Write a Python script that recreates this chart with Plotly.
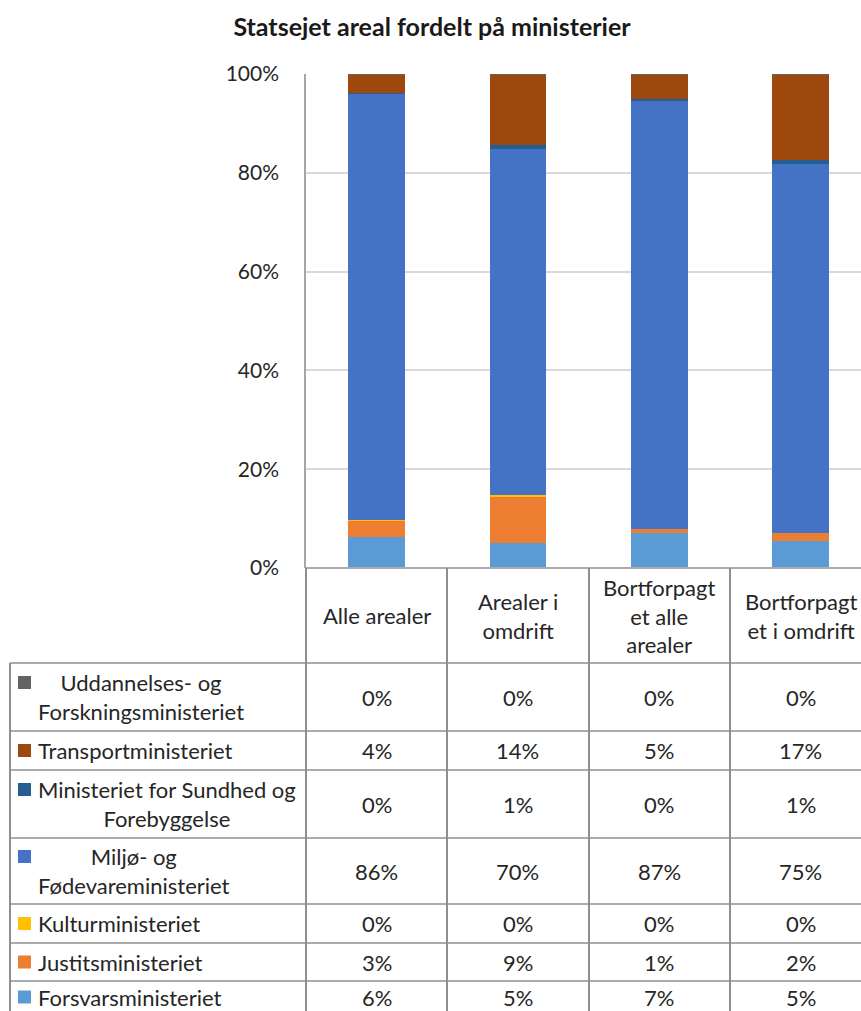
import plotly.graph_objects as go

# ---------------- data ----------------
categories = ["Alle arealer", "Arealer i omdrift",
              "Bortforpagtet alle arealer", "Bortforpagtet i omdrift"]
category_labels = ["Alle arealer", "Arealer i<br>omdrift",
                   "Bortforpagt<br>et alle<br>arealer", "Bortforpagt<br>et i omdrift"]

# stacking order: bottom -> top
series_names = ["Forsvarsministeriet", "Justitsministeriet", "Kulturministeriet",
                "Miljø- og Fødevareministeriet",
                "Ministeriet for Sundhed og Forebyggelse",
                "Transportministeriet", "Uddannelses- og Forskningsministeriet"]
series_table_labels = ["Forsvarsministeriet", "Justitsministeriet", "Kulturministeriet",
                       "Miljø- og<br>Fødevareministeriet",
                       "Ministeriet for Sundhed og<br>Forebyggelse",
                       "Transportministeriet", "Uddannelses- og<br>Forskningsministeriet"]

forsvar = [6.2, 5.1, 7.1, 5.4]
justits = [3.4, 9.3, 0.8, 1.7]
kultur = [0.2, 0.4, 0.05, 0.05]
miljo = [86.2, 70.0, 86.65, 74.65]
sundhed = [0.1, 0.8, 0.3, 0.8]
transport = [3.7, 14.2, 4.9, 17.2]
uddannelse = [0.2, 0.2, 0.2, 0.2]
series_values = [forsvar, justits, kultur, miljo, sundhed, transport, uddannelse]

y_ticks = [0, 20, 40, 60, 80, 100]
y_tick_labels = ["0%", "20%", "40%", "60%", "80%", "100%"]

# ---------------- styles ----------------
colors = ["#5B9BD5", "#ED7D31", "#FFC000", "#4472C4", "#255E91", "#9E480E", "#636363"]
FONT = "Lato"
TXT = "#262626"
FS = 22

W, H = 861, 1011
PW, PH = 555, 494
L, T = 306, 74


def xp(px):  # page pixel -> paper x
    return (px - L) / PW


def yp(py):  # page pixel -> paper y
    return (T + PH - py) / PH


fig = go.Figure()
for name, vals, col in zip(series_names, series_values, colors):
    fig.add_trace(go.Bar(x=categories, y=vals, name=name,
                         marker=dict(color=col, line=dict(width=0))))

shapes = []
ann = []

# table geometry (pixels)
header_top = 568
row_bounds = [663, 731, 770, 838, 904, 943, 981, 1013]
col_lines = [447, 589, 730]
bottom = 1030
hcol = "#ABABAB"
vcol = "#8E8E8E"

shapes.append(dict(type="line", xref="paper", yref="paper", x0=xp(306), x1=1.02,
                   y0=yp(header_top), y1=yp(header_top), line=dict(color=hcol, width=2)))
for b in row_bounds[:-1]:
    shapes.append(dict(type="line", xref="paper", yref="paper", x0=xp(10), x1=1.02,
                       y0=yp(b), y1=yp(b), line=dict(color=hcol, width=2)))
shapes.append(dict(type="line", xref="paper", yref="paper", x0=xp(10), x1=xp(10),
                   y0=yp(row_bounds[0]), y1=yp(bottom), line=dict(color=vcol, width=2)))
for c in [306] + col_lines:
    shapes.append(dict(type="line", xref="paper", yref="paper", x0=xp(c), x1=xp(c),
                       y0=yp(header_top), y1=yp(bottom), line=dict(color=vcol, width=2)))

# header texts
for i, lab in enumerate(category_labels):
    ann.append(dict(x=i, xref="x", y=yp((header_top + row_bounds[0]) / 2), yref="paper",
                    text=lab, showarrow=False, xanchor="center", yanchor="middle",
                    align="center", font=dict(family=FONT, size=FS, color=TXT)))

# table rows (top -> bottom = reverse of stacking)
order = list(range(len(series_names)))[::-1]
for r, si in enumerate(order):
    y0, y1 = row_bounds[r], row_bounds[r + 1]
    yc = (y0 + y1) / 2
    lab = series_table_labels[si]
    nlines = lab.count("<br>") + 1
    sq_c = yc if nlines == 1 else yc - 14.5
    shapes.append(dict(type="rect", xref="paper", yref="paper",
                       x0=xp(18), x1=xp(31), y0=yp(sq_c - 6.5), y1=yp(sq_c + 6.5),
                       fillcolor=colors[si], line=dict(width=0)))
    ann.append(dict(x=xp(36), xref="paper", y=yp(yc), yref="paper", text=lab,
                    showarrow=False, xanchor="left", yanchor="middle", align="center",
                    font=dict(family=FONT, size=FS, color=TXT)))
    for ci, v in enumerate(series_values[si]):
        ann.append(dict(x=ci, xref="x", y=yp(yc), yref="paper", text=f"{round(v)}%",
                        showarrow=False, xanchor="center", yanchor="middle",
                        font=dict(family=FONT, size=FS, color=TXT)))

fig.update_layout(
    width=W, height=H,
    margin=dict(l=L, r=W - L - PW, t=T, b=H - T - PH, pad=0),
    barmode="stack", bargap=0.6,
    showlegend=False,
    paper_bgcolor="white", plot_bgcolor="white",
    title=dict(text="<b>Statsejet areal fordelt på ministerier</b>",
               x=432 / W, xanchor="center", y=1 - 27 / H, yanchor="middle",
               font=dict(family=FONT, size=25, color="#1a1a1a")),
    xaxis=dict(range=[-0.5, -0.5 + PW / 141.3], showticklabels=False, showgrid=False,
               zeroline=False, showline=False, ticks=""),
    yaxis=dict(range=[0, 100], tickvals=y_ticks, ticktext=y_tick_labels, showgrid=True,
               gridcolor="#D9D9D9", gridwidth=1.5, zeroline=False, showline=True,
               linecolor="#A6A6A6", linewidth=1.5, ticks="outside", ticklen=21,
               tickcolor="rgba(0,0,0,0)",
               tickfont=dict(family=FONT, size=21, color=TXT)),
    shapes=shapes, annotations=ann,
)

fig.write_html("out.html",
               config={"displayModeBar": False},
               post_script="document.body.style.margin='0';document.body.style.overflow='hidden';")
